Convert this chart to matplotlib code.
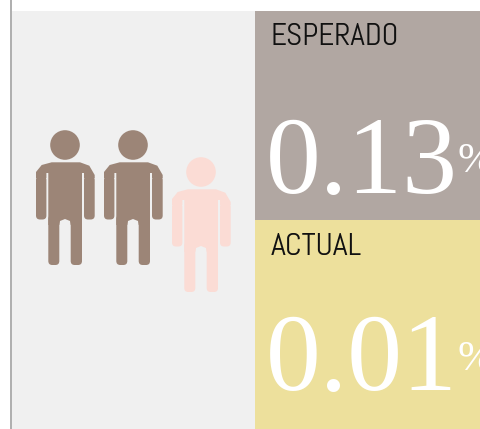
import matplotlib.pyplot as plt
from matplotlib.patches import Rectangle, Circle, Polygon, FancyBboxPatch

# Values shown in the two panels
panel_labels = ['ESPERADO', 'ACTUAL']
panel_values = ['0.13', '0.01']
panel_colors = ['#b1a7a2', '#ede09c']

# Three people, the last one in the lighter colour
person_colors = ['#9c8577', '#9c8577', '#fbdcd5']
person_dx = [0, 68, 136]
person_dy = [0, 0, 27]

W, H = 481, 429
fig = plt.figure(figsize=(W / 100, H / 100), dpi=100)
ax = fig.add_axes([0, 0, 1, 1])
ax.set_xlim(0, W)
ax.set_ylim(H, 0)
ax.axis('off')


def rounded(x0, y0, x1, y1, color):
    # bar with rounded ends, used for arms and legs
    ax.add_patch(FancyBboxPatch((x0 + 4, y0 + 4), x1 - x0 - 8, y1 - y0 - 8,
                                boxstyle='round,pad=4,rounding_size=4', fc=color, ec='none'))


def person(dx, dy, color):
    ax.add_patch(Circle((65 + dx, 145 + dy), 14.8, fc=color, ec='none'))
    # shoulders and torso, with the rounded notch between the legs
    body = [(36, 172), (41.7, 165), (51.7, 162.3), (80, 162.3), (89.3, 165.7), (94.7, 175), (94.7, 178),
            (84, 178), (84, 173), (82, 173), (82, 225), (70.7, 225), (70, 221), (65, 219), (60, 221),
            (59.3, 225), (48.3, 225), (48.3, 173), (46.4, 173), (46.4, 178), (36, 178)]
    ax.add_patch(Polygon([(x + dx, y + dy) for x, y in body], fc=color, ec='none'))
    rounded(36 + dx, 176 + dy, 46.4 + dx, 219.5 + dy, color)
    rounded(84 + dx, 176 + dy, 94.7 + dx, 219.5 + dy, color)
    rounded(48.3 + dx, 215 + dy, 59.3 + dx, 265 + dy, color)
    rounded(70.7 + dx, 215 + dy, 82 + dx, 265 + dy, color)


# left panel and its grey edge
ax.add_patch(Rectangle((12, 11), 243, 418, fc='#f0f0f0', ec='none'))
ax.add_patch(Rectangle((10.5, 0), 1.5, 429, fc='#b0b0b0', ec='none'))

for dx, dy, c in zip(person_dx, person_dy, person_colors):
    person(dx, dy, c)

# right panels
tops = [11, 220]
label_y = [45, 255]
value_y = [193, 390]
pct_y = [172, 370]
label_size = [22.4, 23]
for i in range(2):
    ax.add_patch(Rectangle((255, tops[i]), 230, 209, fc=panel_colors[i], ec='none'))
    ax.text(271, label_y[i], panel_labels[i], fontsize=label_size[i], family=['Abel', 'Liberation Sans'],
            color='#111111', ha='left', va='baseline')
    ax.text(266, value_y[i], panel_values[i], fontsize=79, family='Liberation Serif',
            color='white', ha='left', va='baseline')
    ax.text(458, pct_y[i], '%', fontsize=31, family='Liberation Serif',
            color='white', ha='left', va='baseline')

fig.savefig('out.png', dpi=100)
